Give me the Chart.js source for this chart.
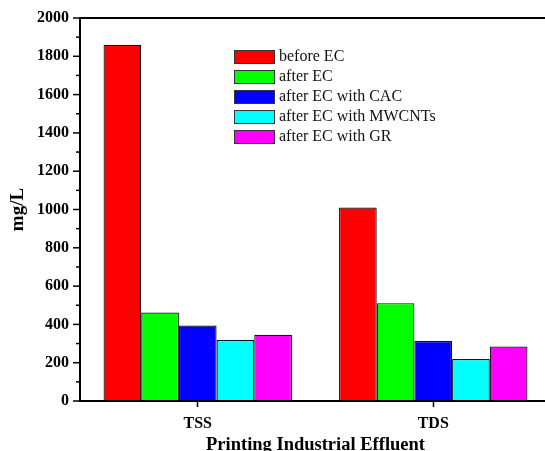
<!DOCTYPE html>
<html>
<head>
<meta charset="utf-8">
<script src="https://cdn.jsdelivr.net/npm/chart.js@4.4.0/dist/chart.umd.min.js"></script>
<style>
  body { margin: 0; background: #fff; overflow: hidden; }
</style>
</head>
<body>
<canvas id="myChart" width="551" height="451"></canvas>
<script>
    //categories on the x axis
    const categories = ["TSS", "TDS"];

    //series values (mg/L)
    const beforeEC = [1860, 1010];
    const afterEC = [462, 511];
    const afterCAC = [394, 313];
    const afterMWCNTs = [318, 219];
    const afterGR = [346, 284];

    //series names and colours
    const seriesNames = ["before EC", "after EC", "after EC with CAC", "after EC with MWCNTs", "after EC with GR"];
    const seriesColors = ["#ff0000", "#00ff00", "#0000ff", "#00ffff", "#ff00ff"];

    const serif = "'Liberation Serif', 'Times New Roman', serif";

    //draw y tick marks (major every 200, minor every 100)
    const tickPlugin = {
        id: 'yTicks',
        afterDraw(chart) {
            const ctx = chart.ctx;
            const y = chart.scales.y;
            ctx.save();
            ctx.strokeStyle = '#000';
            ctx.lineWidth = 1.5;
            y.ticks.forEach(t => {
                const py = y.getPixelForValue(t.value);
                const len = t.value % 200 === 0 ? 7 : 4;
                ctx.beginPath();
                ctx.moveTo(y.right - len, py);
                ctx.lineTo(y.right, py);
                ctx.stroke();
            });
            ctx.restore();
        }
    };

    //legend drawn inside the plot area
    const legendPlugin = {
        id: 'boxLegend',
        afterDraw(chart) {
            const ctx = chart.ctx;
            ctx.save();
            ctx.font = "16px " + serif;
            ctx.textBaseline = 'middle';
            chart.data.datasets.forEach((ds, i) => {
                const top = 50 + i * 20;
                ctx.fillStyle = ds.backgroundColor;
                ctx.fillRect(234, top, 40, 13);
                ctx.strokeStyle = '#333';
                ctx.lineWidth = 1;
                ctx.strokeRect(234.5, top + 0.5, 40, 13);
                ctx.fillStyle = '#111';
                ctx.fillText(ds.label, 279, top + 7);
            });
            ctx.restore();
        }
    };

    const allSeries = [beforeEC, afterEC, afterCAC, afterMWCNTs, afterGR];

    const data = {
        labels: categories,
        datasets: allSeries.map((vals, i) => ({
            label: seriesNames[i],
            data: vals,
            backgroundColor: seriesColors[i],
            borderColor: '#111',
            borderWidth: 1.2,
            categoryPercentage: 0.8,
            barPercentage: 1.0
        }))
    };

    const config = {
        type: 'bar',
        data: data,
        options: {
            responsive: false,
            animation: false,
            layout: { padding: { top: 18, right: 0, left: 0, bottom: 0 } },
            plugins: {
                legend: { display: false },
                tooltip: { enabled: false }
            },
            scales: {
                x: {
                    afterFit(scale) { scale.height = 50; },
                    grid: {
                        offset: false,
                        drawOnChartArea: false,
                        drawTicks: true,
                        tickLength: 6,
                        tickColor: '#000',
                        tickWidth: 1.5
                    },
                    border: { display: true, color: '#000', width: 2 },
                    ticks: {
                        color: '#000',
                        padding: 7,
                        font: { family: serif, size: 16, weight: 'bold' }
                    },
                    title: {
                        display: true,
                        text: 'Printing Industrial Effluent',
                        color: '#000',
                        padding: { top: 0, bottom: -5.5 },
                        font: { family: serif, size: 18.5, weight: 'bold' }
                    }
                },
                y: {
                    min: 0,
                    max: 2000,
                    afterFit(scale) { scale.width = 80; },
                    grid: {
                        drawOnChartArea: true,
                        drawTicks: true,
                        tickLength: 7,
                        tickColor: 'rgba(0,0,0,0)',
                        color: ctx => ctx.tick && ctx.tick.value === 2000 ? '#000' : 'rgba(0,0,0,0)',
                        lineWidth: 2
                    },
                    border: { display: true, color: '#000', width: 2 },
                    ticks: {
                        stepSize: 100,
                        autoSkip: false,
                        color: '#000',
                        padding: 4,
                        font: { family: serif, size: 16, weight: 'bold' },
                        callback: v => v % 200 === 0 ? v : ''
                    },
                    title: {
                        display: true,
                        text: 'mg/L',
                        color: '#000',
                        padding: { top: 6.5, bottom: 0 },
                        font: { family: serif, size: 19, weight: 'bold' }
                    }
                }
            }
        },
        plugins: [tickPlugin, legendPlugin]
    };

    new Chart(document.getElementById('myChart'), config);
</script>
</body>
</html>
